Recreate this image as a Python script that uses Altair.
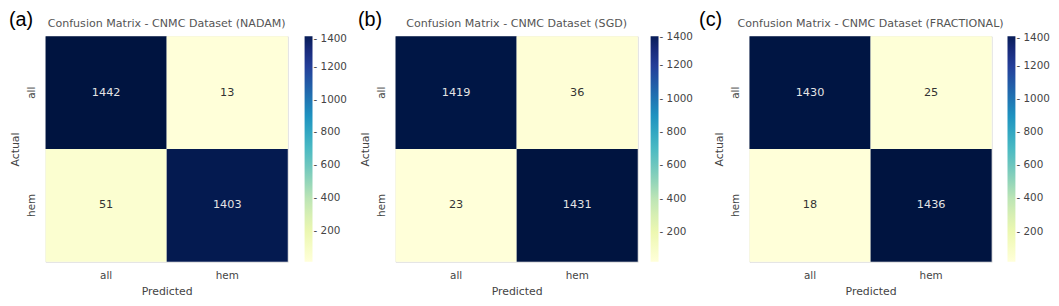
import altair as alt
import pandas as pd

panel_tags = ["(a)", "(b)", "(c)"]
titles = ["Confusion Matrix - CNMC Dataset (NADAM)",
          "Confusion Matrix - CNMC Dataset (SGD)",
          "Confusion Matrix - CNMC Dataset (FRACTIONAL)"]
classes = ["all", "hem"]
actual = ["all", "all", "hem", "hem"]
predicted = ["all", "hem", "all", "hem"]
counts_nadam = [1442, 13, 51, 1403]
counts_sgd = [1419, 36, 23, 1431]
counts_frac = [1430, 25, 18, 1436]
legend_ticks = [200, 400, 600, 800, 1000, 1200, 1400]
ylgnbu = ["#ffffd9", "#edf8b1", "#c7e9b4", "#7fcdbb", "#41b6c4",
          "#1d91c0", "#225ea8", "#253494", "#081d58"]
stops = [0.0, 0.125, 0.25, 0.375, 0.5, 0.625, 0.75, 0.86, 0.96]

FONT = "DejaVu Sans"
GREY = "#444444"
W, H = 245, 228


def panel(tag, title, counts, tag_dx, legend_offset):
    df = pd.DataFrame({"Actual": actual, "Predicted": predicted, "Count": counts})
    lo, hi = min(counts), max(counts)
    dom = [lo + s * (hi - lo) for s in stops]

    x = alt.X("Predicted:N", sort=classes, title="Predicted",
              axis=alt.Axis(labelAngle=0, ticks=False, domain=False,
                            labelPadding=9, titlePadding=5,
                            labelFontSize=10.5, titleFontSize=11,
                            labelFont=FONT, titleFont=FONT,
                            labelColor=GREY, titleColor=GREY,
                            titleFontWeight="normal"))
    y = alt.Y("Actual:N", sort=classes, title="Actual",
              axis=alt.Axis(labelAngle=270, ticks=False, domain=False,
                            labelPadding=9, titlePadding=6,
                            labelFontSize=10.5, titleFontSize=11,
                            labelFont=FONT, titleFont=FONT,
                            labelColor=GREY, titleColor=GREY,
                            titleFontWeight="normal"))
    base = alt.Chart(df)
    rect = base.mark_rect().encode(
        x=x, y=y,
        color=alt.Color("Count:Q",
                        scale=alt.Scale(domain=dom, range=ylgnbu, interpolate="rgb"),
                        legend=alt.Legend(title=None, gradientLength=H,
                                          gradientThickness=8,
                                          values=legend_ticks, format="d",
                                          labelExpr="'- ' + datum.label",
                                          labelFontSize=10.5, labelFont=FONT,
                                          labelColor=GREY, offset=legend_offset,
                                          labelOffset=1)))
    text = base.mark_text(fontSize=11.4, font=FONT).encode(
        x=alt.X("Predicted:N", sort=classes),
        y=alt.Y("Actual:N", sort=classes),
        text="Count:Q",
        color=alt.condition(alt.datum.Count > 700, alt.value("#e4e4e4"),
                            alt.value("#333333")))
    lab = pd.DataFrame({"tag": [tag], "title": [title]})
    tag_mark = alt.Chart(lab).mark_text(
        align="left", baseline="middle", fontSize=20,
        font="Liberation Sans", color="black").encode(
        x=alt.value(-tag_dx), y=alt.value(-16), text="tag:N")
    title_mark = alt.Chart(lab).mark_text(
        align="center", baseline="middle", fontSize=11.2,
        font=FONT, color="#555555").encode(
        x=alt.value(W / 2), y=alt.value(-12), text="title:N")
    return alt.layer(rect, text, tag_mark, title_mark).properties(width=W, height=H)


pa = panel(panel_tags[0], titles[0], counts_nadam, 37, 17)
pb = panel(panel_tags[1], titles[1], counts_sgd, 38, 13)
pc = panel(panel_tags[2], titles[2], counts_frac, 51, 16)

ab = alt.hconcat(pa, pb, spacing=9).resolve_scale(color="independent").resolve_legend(color="independent")
chart = alt.hconcat(ab, pc, spacing=4).resolve_scale(color="independent").resolve_legend(color="independent").properties(
    padding=0
).configure_view(stroke=None).configure(background="white")

chart.save("out.html", embed_options={"renderer": "svg", "actions": False})
